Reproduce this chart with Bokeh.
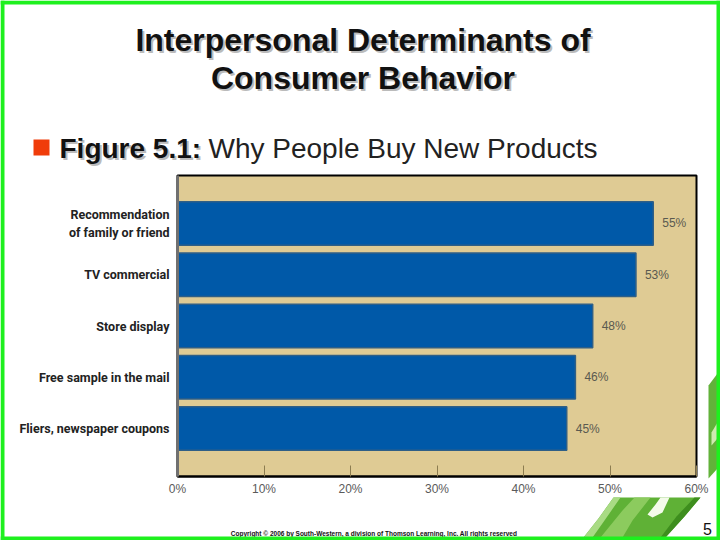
from bokeh.plotting import figure
from bokeh.models import FactorRange, Range1d, ColumnDataSource, FixedTicker
from bokeh.core.properties import value
from bokeh.embed import file_html
from bokeh.resources import INLINE

title_lines = ["Interpersonal Determinants of", "Consumer Behavior"]
subtitle_bold = "Figure 5.1:"
subtitle_rest = "Why People Buy New Products"
categories = ["Recommendation\nof family or friend", "TV commercial", "Store display",
              "Free sample in the mail", "Fliers, newspaper coupons"]
values = [55, 53, 48, 46, 45]
value_labels = ["55%", "53%", "48%", "46%", "45%"]
ticks = [0, 10, 20, 30, 40, 50, 60]
tick_labels = {0: "0%", 10: "10%", 20: "20%", 30: "30%", 40: "40%", 50: "50%", 60: "60%"}
copyright_text = "Copyright © 2006 by South-Western, a division of Thomson Learning, Inc. All rights reserved"
page_number = "5"

W, H = 720, 540
FL, FR, FT, FB = 177, 696, 175, 476

# slide background layer, in pixel coordinates of the slide
bg = figure(width=W, height=H, output_backend="svg", toolbar_location=None,
            x_range=Range1d(0, W), y_range=Range1d(H, 0),
            x_axis_type=None, y_axis_type=None, min_border=0,
            background_fill_color="#FFFFFF", border_fill_color="#FFFFFF")
bg.grid.visible = False
bg.outline_line_color = None

def add_poly(pts, color):
    bg.patch(x=[a for a, b in pts], y=[b for a, b in pts], fill_color=color, line_color=None)

# leaf decoration
add_poly([(583, 537), (598, 518), (613, 497), (700, 497), (684, 516), (665, 537)], "#5FB136")
add_poly([(600, 537), (622, 510), (634, 497), (650, 497), (632, 520), (622, 537)], "#8CCB5E")
add_poly([(583, 537), (598, 518), (613, 497), (620, 497), (604, 520), (592, 537)], "#A9DB84")
add_poly([(665, 537), (684, 516), (700, 497), (694, 497), (676, 516), (660, 537)], "#3E8E1E")
add_poly([(669, 497), (662, 512), (652, 517), (647, 514), (655, 504), (660, 497)], "#F4FBEA")
add_poly([(717, 373), (708, 385), (708, 478), (717, 468)], "#62B23A")
add_poly([(717, 422), (711, 432), (711, 445), (717, 438)], "#CFEAB0")

def add_text(txt, px, py, size, style="normal", color="#111111", align="left", shadow=False):
    if shadow:
        bg.text(x=[px + 2], y=[py + 2], text=[txt], text_font=value("Liberation Sans"),
                text_font_size=size, text_font_style=style, text_color="#BBBBBB",
                text_align=align, text_baseline="middle")
    bg.text(x=[px], y=[py], text=[txt], text_font=value("Liberation Sans"),
            text_font_size=size, text_font_style=style, text_color=color,
            text_align=align, text_baseline="middle")

add_text(title_lines[0], 362.5, 39, "32px", "bold", align="center", shadow=True)
add_text(title_lines[1], 362.5, 77, "32px", "bold", align="center", shadow=True)
add_poly([(33, 139), (49, 139), (49, 155), (33, 155)], "#F03C0A")
add_text(subtitle_bold, 59, 148, "28px", "bold", shadow=True)
add_text(subtitle_rest, 208, 148, "28px", color="#222222")
add_text(copyright_text, 373.5, 533, "6.5px", "bold", align="center")
add_text(page_number, 707, 528, "16px", align="center")

# slide frame
add_poly([(0, 0), (720, 0), (720, 4), (0, 4)], "#1EF01E")
add_poly([(0, 536), (720, 536), (720, 540), (0, 540)], "#1EF01E")
add_poly([(0, 0), (4, 0), (4, 540), (0, 540)], "#1EF01E")
add_poly([(716, 0), (720, 0), (720, 540), (716, 540)], "#1EF01E")

# chart layer
p = figure(width=W, height=H, output_backend="svg", toolbar_location=None,
           y_range=FactorRange(factors=categories[::-1], range_padding=0.435, range_padding_units="absolute"),
           x_range=Range1d(0, 60),
           min_border_left=FL, min_border_right=W - FR, min_border_top=FT, min_border_bottom=H - FB,
           background_fill_color="#DFCB94", border_fill_color=None)
p.styles = {"position": "absolute", "left": "0px", "top": "0px"}
p.xgrid.visible = False
p.ygrid.visible = False
p.outline_line_color = "#000000"
p.outline_line_width = 2

src = ColumnDataSource(dict(cat=categories, val=values, lab=value_labels))
p.hbar(y="cat", left=0, right="val", height=0.85, source=src,
       fill_color="#0059A8", line_color="#2F5F86", line_width=1.5)
p.text(x="val", y="cat", text="lab", source=src, x_offset=9, text_baseline="middle",
       text_color="#5A5A50", text_font=value("Liberation Sans"), text_font_size="12px")

ax = p.xaxis[0]
ax.ticker = FixedTicker(ticks=ticks)
ax.major_label_overrides = tick_labels
ax.major_tick_in = 11
ax.major_tick_out = 0
ax.major_tick_line_color = "#8C7C50"
ax.minor_tick_line_color = None
ax.axis_line_color = "#000000"
ax.axis_line_width = 2
ax.major_label_text_color = "#5A5A5A"
ax.major_label_text_font = "Liberation Sans"
ax.major_label_text_font_size = "12px"
ax.major_label_standoff = 5

ay = p.yaxis[0]
ay.axis_line_color = "#707070"
ay.axis_line_width = 3
ay.major_tick_line_color = None
ay.minor_tick_line_color = None
ay.major_label_text_color = "#222222"
ay.major_label_text_font = "Roboto"
ay.major_label_text_font_style = "bold"
ay.major_label_text_font_size = "12.5px"
ay.major_label_standoff = 2

open("out.html", "w").write(file_html([bg, p], INLINE))
